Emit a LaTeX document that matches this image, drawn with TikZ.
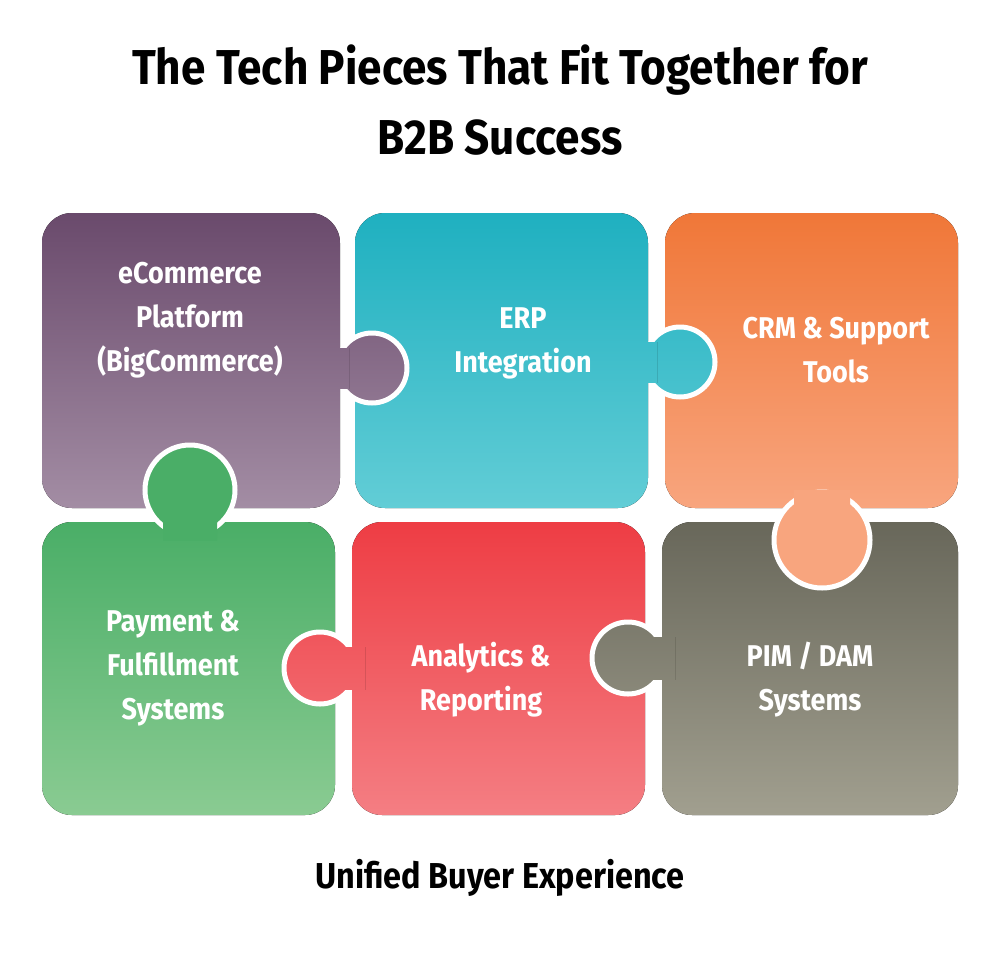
\documentclass[tikz,border=0pt]{standalone}
\usepackage{fontspec}
\setmainfont{Fira Sans}[FakeStretch=0.9]
\begin{document}
\begin{tikzpicture}[x=1pt,y=-1pt,
  lbl/.style={text=white,font=\fontsize{30}{44}\selectfont\bfseries,align=center},
  piece/.style={rounded corners=30pt},
  wstroke/.style={draw=white,line width=5pt},
  pu/.style={top color=pu1,bottom color=pu2},
  te/.style={top color=te1,bottom color=te2},
  or/.style={top color=or1,bottom color=or2},
  gr/.style={top color=gr1,bottom color=gr2},
  re/.style={top color=re1,bottom color=re2},
  gy/.style={top color=gy1,bottom color=gy2}]
\useasboundingbox (0,0) rectangle (1000,958);
\definecolor{pu1}{HTML}{6A4A6C}\definecolor{pu2}{HTML}{A38DA4}
\definecolor{te1}{HTML}{1FB0C0}\definecolor{te2}{HTML}{62CDD6}
\definecolor{or1}{HTML}{F07738}\definecolor{or2}{HTML}{F8A57E}
\definecolor{gr1}{HTML}{4AAE67}\definecolor{gr2}{HTML}{8ACB92}
\definecolor{re1}{HTML}{EE3D44}\definecolor{re2}{HTML}{F47E83}
\definecolor{gy1}{HTML}{68675A}\definecolor{gy2}{HTML}{A19F8F}
% base pieces
\fill[piece,pu] (42,213) rectangle (340,508);
\fill[piece,te] (355,213) rectangle (648,508);
\fill[piece,or] (665,213) rectangle (958,508);
\fill[piece,gr] (42,522) rectangle (335,815);
\fill[piece,re] (352,522) rectangle (645,815);
\fill[piece,gy] (662,522) rectangle (958,815);
% knob: purple -> teal
\begin{scope}\clip (372,368) circle (35);\fill[pu] (0,213) rectangle (1000,508);\end{scope}
\draw[wstroke] (372,368) circle (35);
\begin{scope}\clip (320,348) rectangle (349,388);\fill[pu] (0,213) rectangle (1000,508);\end{scope}
% knob: teal -> orange
\begin{scope}\clip (680,362) circle (35);\fill[te] (0,213) rectangle (1000,508);\end{scope}
\draw[wstroke] (680,362) circle (35);
\begin{scope}\clip (630,342) rectangle (657,382);\fill[te] (0,213) rectangle (1000,508);\end{scope}
% knob: green -> purple
\begin{scope}\clip (190,490) circle (45);\fill[gr1] (42,420) rectangle (335,560);\end{scope}
\draw[wstroke] (190,490) circle (45);
\begin{scope}\clip (163,510) rectangle (217,540);\fill[gr1] (42,420) rectangle (335,560);\end{scope}
% knob: red -> green
\begin{scope}\clip (320,668) circle (36);\fill[re] (0,522) rectangle (1000,815);\end{scope}
\draw[wstroke] (320,668) circle (36);
\begin{scope}\clip (329,647) rectangle (365,689);\fill[re] (0,522) rectangle (1000,815);\end{scope}
% knob: grey -> red
\begin{scope}\clip (628,658) circle (36);\fill[gy] (0,522) rectangle (1000,815);\end{scope}
\draw[wstroke] (628,658) circle (36);
\begin{scope}\clip (637,637) rectangle (675,679);\fill[gy] (0,522) rectangle (1000,815);\end{scope}
% knob: orange -> grey
\begin{scope}\clip (822,540) circle (48);\fill[or2] (665,480) rectangle (958,600);\end{scope}
\draw[wstroke] (822,540) circle (48);
\begin{scope}\clip (794,490) rectangle (850,522);\fill[or2] (665,480) rectangle (958,600);\end{scope}
% texts
\node[font=\fontsize{49}{70}\selectfont\bfseries,align=center] (title) at (500,100)
  {The Tech Pieces That Fit Together for\\B2B Success};
\node[lbl] (p1) at (190,320) {eCommerce\\Platform\\(BigCommerce)};
\node[lbl] (p2) at (523,343) {ERP\\Integration};
\node[lbl] (p3) at (836,350) {CRM \& Support\\Tools};
\node[lbl] (p4) at (173,668) {Payment \&\\Fulfillment\\Systems};
\node[lbl] (p5) at (481,680) {Analytics \&\\Reporting};
\node[lbl] (p6) at (810,680) {PIM / DAM\\Systems};
\node[font=\fontsize{36}{44}\selectfont\bfseries] (foot) at (500,878) {Unified Buyer Experience};
\end{tikzpicture}
\end{document}
